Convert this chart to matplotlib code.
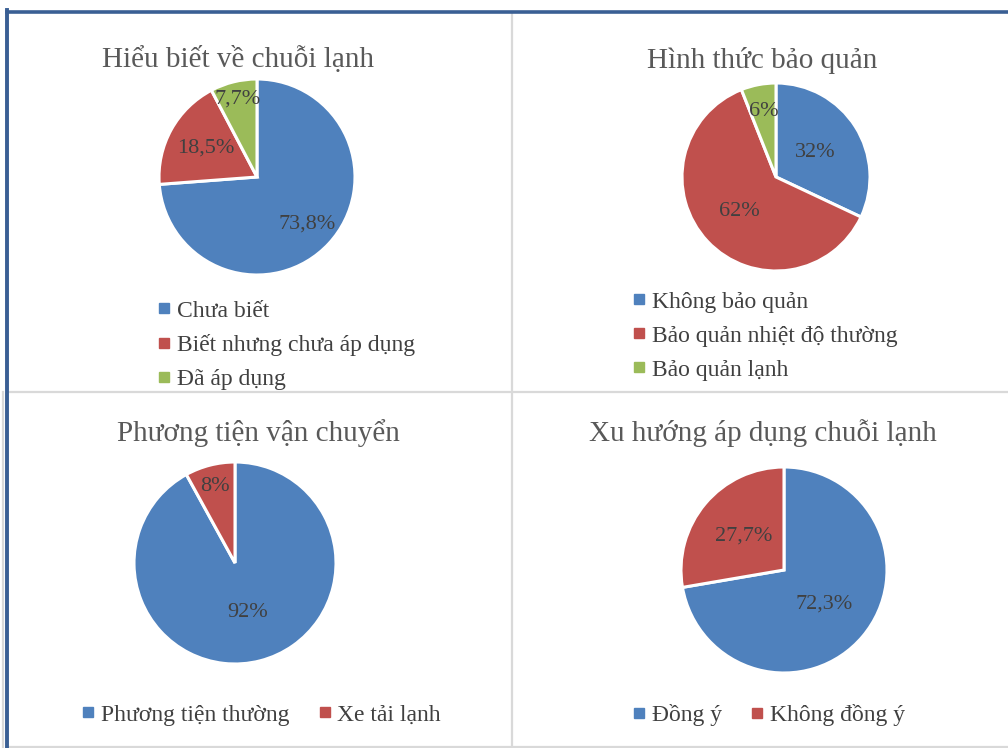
import numpy as np
import matplotlib.pyplot as plt
from matplotlib.lines import Line2D

plt.rcParams['font.family'] = ['Liberation Serif', 'DejaVu Serif']

# data
titles = ['Hiểu biết về chuỗi lạnh', 'Hình thức bảo quản',
          'Phương tiện vận chuyển', 'Xu hướng áp dụng chuỗi lạnh']
labels1 = ['Chưa biết', 'Biết nhưng chưa áp dụng', 'Đã áp dụng']
values1 = [73.8, 18.5, 7.7]
texts1 = ['73,8%', '18,5%', '7,7%']
labels2 = ['Không bảo quản', 'Bảo quản nhiệt độ thường', 'Bảo quản lạnh']
values2 = [32, 62, 6]
texts2 = ['32%', '62%', '6%']
labels3 = ['Phương tiện thường', 'Xe tải lạnh']
values3 = [92, 8]
texts3 = ['92%', '8%']
labels4 = ['Đồng ý', 'Không đồng ý']
values4 = [72.3, 27.7]
texts4 = ['72,3%', '27,7%']

colors = ['#4F81BD', '#C0504D', '#9BBB59']
txt_col = '#404040'
W, H = 1008, 748

fig = plt.figure(figsize=(W / 100, H / 100), dpi=100)


def fx(x):
    return x / W


def fy(y):
    return 1 - y / H


def line(xs, ys, color, lw):
    fig.add_artist(Line2D([fx(v) for v in xs], [fy(v) for v in ys],
                          color=color, lw=lw, transform=fig.transFigure))


# panel borders
grey = '#D9D9D9'
line([512, 512], [12, 748], grey, 1.6)
line([8, 1008], [392, 392], grey, 1.6)
line([8, 1008], [747, 747], grey, 1.6)
line([3, 3], [392, 748], grey, 1.6)
blue = '#3A5F94'
line([6.5, 1008], [11.5, 11.5], blue, 2.6)
line([6.5, 6.5], [10, 748], blue, 2.8)


def draw_pie(cx, cy, r, vals, texts, dists, title, tx, ty, labels, leg_xy, ncol):
    ax = fig.add_axes([fx(cx - r), fy(cy + r), 2 * r / W, 2 * r / H])
    wedges, _ = ax.pie(vals, colors=colors[:len(vals)], startangle=90,
                       counterclock=False,
                       wedgeprops=dict(edgecolor='white', linewidth=2.2))
    ax.set_xlim(-1, 1)
    ax.set_ylim(-1, 1)
    for w, t, d in zip(wedges, texts, dists):
        ang = np.deg2rad((w.theta1 + w.theta2) / 2)
        ax.text(d * np.cos(ang), d * np.sin(ang), t, ha='center',
                va='center', fontsize=16, color=txt_col)
    fig.text(fx(tx), fy(ty), title, ha='center', va='center',
             fontsize=21, color='#595959')
    handles = [Line2D([], [], marker='s', ls='', color=c, markersize=6.5)
               for c in colors[:len(labels)]]
    fig.legend(handles, labels, loc='upper left',
               bbox_to_anchor=(fx(leg_xy[0]), fy(leg_xy[1])),
               ncol=ncol, frameon=False, fontsize=17, labelcolor=txt_col,
               handlelength=0.55, handletextpad=0.25, labelspacing=0.53,
               columnspacing=1.22, borderpad=0, borderaxespad=0)


draw_pie(257, 177, 98, values1, texts1, [0.7, 0.6, 0.82], titles[0],
         238, 59, labels1, (158, 300), 1)
draw_pie(776, 177, 94, values2, texts2, [0.49, 0.54, 0.71], titles[1],
         762, 61, labels2, (633, 291), 1)
draw_pie(235, 563, 101, values3, texts3, [0.51, 0.78], titles[2],
         258, 433, labels3, (82, 704), 2)
draw_pie(784, 570, 103, values4, texts4, [0.51, 0.51], titles[3],
         763, 433, labels4, (633, 704), 2)

fig.savefig('out.png', dpi=100)
